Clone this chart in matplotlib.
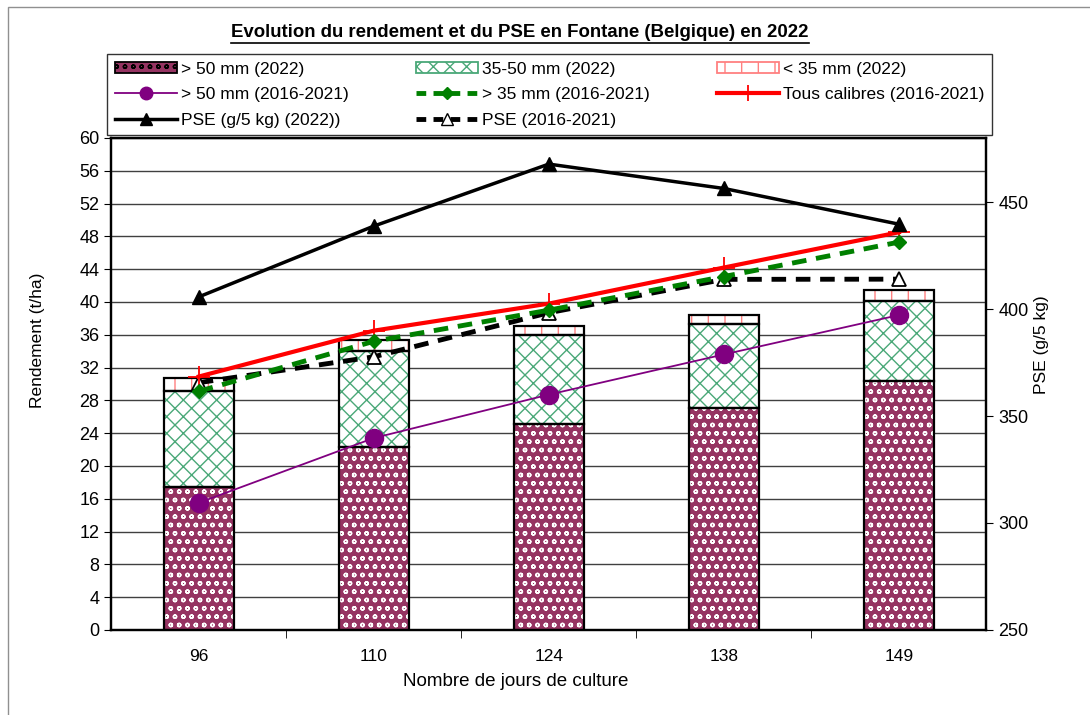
import matplotlib.pyplot as plt
import matplotlib.patches as mpatches
from matplotlib.lines import Line2D
import numpy as np

plt.rcParams['font.family'] = ['Liberation Sans', 'DejaVu Sans']

days = ['96', '110', '124', '138', '149']

# rendement 2022 par calibre (t/ha)
gt50_2022 = [17.4, 22.3, 25.1, 27.1, 30.4]
mid_2022 = [11.8, 11.7, 10.9, 10.2, 9.7]
lt35_2022 = [1.5, 1.4, 1.1, 1.1, 1.3]

# moyennes 2016-2021 (t/ha)
gt50_hist = [15.5, 23.4, 28.7, 33.6, 38.4]
gt35_hist = [29.1, 35.2, 39.0, 43.1, 47.3]
all_hist = [30.9, 36.5, 39.8, 44.2, 48.5]

# PSE (g/5 kg)
pse_2022 = [405.7, 438.8, 467.8, 456.4, 439.7]
pse_hist = [365.6, 377.7, 398.3, 413.9, 414.0]

x = np.arange(len(days))
w = 0.40
maroon = '#963462'
green = '#4aa878'

fig = plt.figure(figsize=(10.9, 7.15), dpi=100)
ax = fig.add_axes([0.102, 0.119, 0.803, 0.688])
ax2 = ax.twinx()
ax.set_zorder(ax2.get_zorder() + 1)
ax.patch.set_visible(False)

# gridlines
ax.set_yticks(np.arange(0, 61, 4))
ax.grid(axis='y', color='#404040', linewidth=1.0, zorder=0)
ax.set_axisbelow(True)

# stacked bars: fill + hatch, then black outline
bottom2 = np.array(gt50_2022)
bottom3 = bottom2 + np.array(mid_2022)
ax.bar(x, gt50_2022, w, color=maroon, edgecolor='white', hatch='oo', linewidth=0, zorder=2)
ax.bar(x, mid_2022, w, bottom=bottom2, color='white', edgecolor=green, hatch='xx', linewidth=0, zorder=2)
ax.bar(x, lt35_2022, w, bottom=bottom3, color='white', edgecolor='#ff8080', hatch='|', linewidth=0, zorder=2)
ax.bar(x, gt50_2022, w, fill=False, edgecolor='black', linewidth=1.6, zorder=3)
ax.bar(x, mid_2022, w, bottom=bottom2, fill=False, edgecolor='black', linewidth=1.6, zorder=3)
ax.bar(x, lt35_2022, w, bottom=bottom3, fill=False, edgecolor='black', linewidth=1.6, zorder=3)

# lines on left axis
ax.plot(x, gt50_hist, color='#800080', linewidth=1.3, marker='o', markersize=13, zorder=5)
ax.plot(x, all_hist, color='#ff0000', linewidth=3, marker='+', markersize=16, markeredgewidth=1.3, zorder=5)
ax.plot(x, gt35_hist, color='#008000', linewidth=3.5, linestyle=(0, (3, 2)), marker='D',
        markersize=7, zorder=5)

# PSE series go on the right axis scale
ax2.set_ylim(250, 480)
pse_to_left = lambda v: (np.array(v) - 250) * 60 / 230
ax.plot(x, pse_to_left(pse_hist), color='black', linewidth=3.5, linestyle=(0, (3, 2)), marker='^',
        markersize=10, markerfacecolor='white', markeredgecolor='black', markeredgewidth=1.3, zorder=4)
ax.plot(x, pse_to_left(pse_2022), color='black', linewidth=2.5, marker='^', markersize=10, zorder=5)

ax.set_xlim(-0.5, 4.5)
ax.set_ylim(0, 60)
ax2.set_yticks([250, 300, 350, 400, 450])

ax.set_xticks(x)
ax.set_xticklabels(days)
ax.set_xticks(np.arange(0.5, 4, 1), minor=True)
ax.tick_params(axis='x', which='major', length=0, pad=14, labelsize=12.5)
ax.tick_params(axis='x', which='minor', length=6, direction='out')
ax.tick_params(axis='y', labelsize=13, length=5, direction='out')
ax2.tick_params(axis='y', labelsize=13, length=5, direction='out')

ax.set_xlabel('Nombre de jours de culture', fontsize=13.5)
ax.set_ylabel('Rendement (t/ha)', fontsize=12.5)
ax2.set_ylabel('PSE (g/5 kg)', fontsize=12.5)
ax.xaxis.set_label_coords(0.462, -0.088)
ax.yaxis.set_label_coords(-0.076, 0.589)
ax2.yaxis.set_label_coords(1.054, 0.58)

for a in (ax, ax2):
    for s in a.spines.values():
        s.set_linewidth(1.6)

# legend
handles = [
    mpatches.Patch(facecolor=maroon, edgecolor='black', hatch='oo', linewidth=1.3),
    Line2D([], [], color='#800080', linewidth=1.3, marker='o', markersize=9),
    Line2D([], [], color='black', linewidth=2.5, marker='^', markersize=9),
    mpatches.Patch(facecolor='white', edgecolor=green, hatch='xx', linewidth=1.3),
    Line2D([], [], color='#008000', linewidth=3.5, linestyle=(0, (2, 1.5)), marker='D', markersize=6),
    Line2D([], [], color='black', linewidth=3.5, linestyle=(0, (2, 1.5)), marker='^', markersize=8,
           markerfacecolor='white'),
    mpatches.Patch(facecolor='white', edgecolor='#ff8080', hatch='|', linewidth=1.3),
    Line2D([], [], color='#ff0000', linewidth=3, marker='+', markersize=12, markeredgewidth=1.3),
]
labels = ['> 50 mm (2022)', '> 50 mm (2016-2021)', 'PSE (g/5 kg) (2022))',
          '35-50 mm (2022)', '> 35 mm (2016-2021)', 'PSE (2016-2021)',
          '< 35 mm (2022)', 'Tous calibres (2016-2021)']
leg = fig.legend(handles, labels, ncol=3, loc='upper left',
                 bbox_to_anchor=(0.098, 0.8126, 0.812, 0.112), mode='expand',
                 fontsize=12.5, frameon=True, fancybox=False, edgecolor='black',
                 handlelength=3.6, handleheight=0.6, handletextpad=0.2, labelspacing=0.6,
                 borderaxespad=0, borderpad=0.45, columnspacing=1.0)
leg.get_frame().set_linewidth(1.0)

# title with underline
title = fig.text(0.477, 0.954, 'Evolution du rendement et du PSE en Fontane (Belgique) en 2022',
                 ha='center', va='center', fontsize=13.4, fontweight='bold')
fig.canvas.draw()
bb = title.get_window_extent().transformed(fig.transFigure.inverted())
fig.add_artist(Line2D([bb.x0, bb.x1], [bb.y0 - 0.002, bb.y0 - 0.002], color='black',
                      linewidth=1.2, transform=fig.transFigure))

# outer frame
fig.add_artist(mpatches.Rectangle((0.0075, -0.01), 1.1, 1.0, transform=fig.transFigure,
                                  fill=False, edgecolor='#909090', linewidth=1.0))

fig.savefig('out.png', dpi=100)
